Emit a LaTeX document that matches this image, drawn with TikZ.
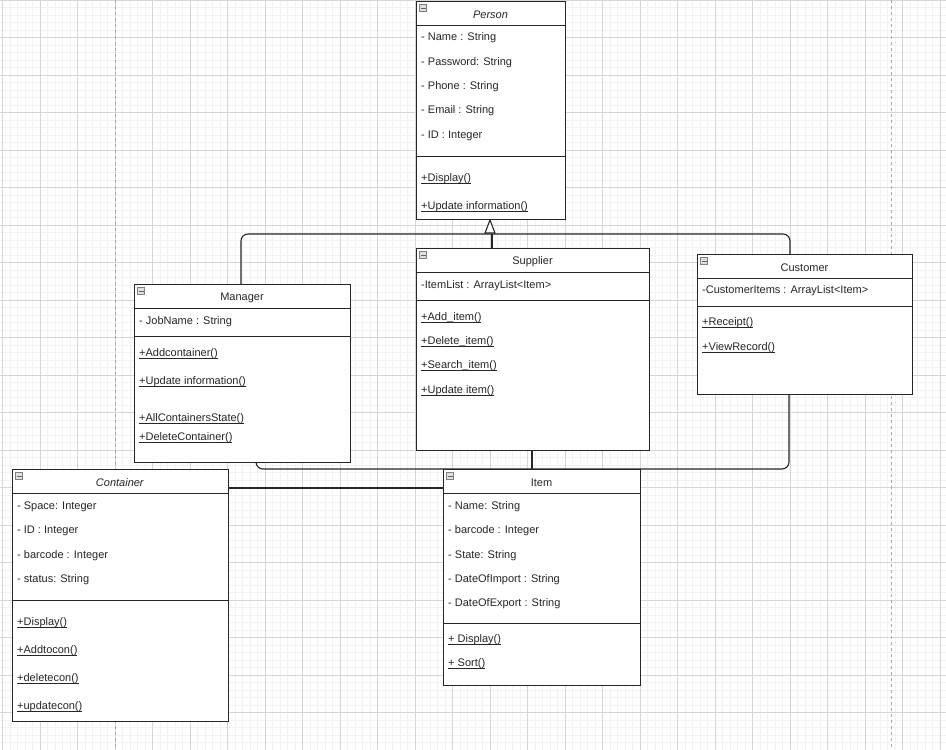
\documentclass[tikz,border=0pt]{standalone}
\usepackage{fontspec}
\setmainfont{Liberation Sans}
\usetikzlibrary{arrows.meta}
\tikzset{
  box/.style={draw=black!85,line width=1.1pt,fill=white},
  sepl/.style={draw=black!85,line width=1pt},
  txt/.style={anchor=west,inner sep=0pt,font=\fontsize{11}{13}\selectfont,text=black!85},
  ttl/.style={anchor=center,inner sep=0pt,font=\fontsize{11}{13}\selectfont,text=black!85},
  conn/.style={draw=black!85,line width=1.1pt,rounded corners=7pt},
  icon/.style={draw=gray,fill=gray!25,minimum size=7pt,inner sep=0pt,line width=0.5pt}
}
\newcommand\mth[1]{\setbox0\hbox{#1}\rlap{\rule[-1.6pt]{\wd0}{0.6pt}}\box0}
% name, x1, y1, x2, y2, header y, sep y, title
\newcommand\cls[8]{%
  \node[box,anchor=north west,minimum width={(#4-#2)*1pt},minimum height={(#5-#3)*1pt},inner sep=0pt] (#1) at (#2,#3) {};
  \draw[sepl] (#2,#6) -- (#4,#6);
  \draw[sepl] (#2,#7) -- (#4,#7);
  \node[icon] (#1i) at (#2+7,#3+7) {};
  \draw[gray!80!black,line width=0.6pt] (#2+4.5,#3+7) -- (#2+9.5,#3+7);
  \node[ttl] (#1t) at ({(#2+#4)/2},{(#3+#6)/2+1.5}) {#8};
}
\begin{document}
\begin{tikzpicture}[x=1pt,y=-1pt]
\useasboundingbox (0,0) rectangle (946,750);
\fill[white] (0,0) rectangle (946,750);
\foreach \i in {0,...,127} \draw[black!5,line width=0.4pt] ({2.5+7.5*\i},0) -- ({2.5+7.5*\i},750);
\foreach \i in {0,...,100} \draw[black!5,line width=0.4pt] (0,{0+7.5*\i}) -- (946,{0+7.5*\i});
\foreach \i in {0,...,25} \draw[black!16,line width=0.6pt] ({2.5+37.5*\i},0) -- ({2.5+37.5*\i},750);
\foreach \i in {0,...,20} \draw[black!16,line width=0.6pt] (0,{37.5*\i}) -- (946,{37.5*\i});
\draw[black!35,dashed,line width=0.8pt] (115,0) -- (115,750);
\draw[black!35,dashed,line width=0.8pt] (891,0) -- (891,750);

% connectors (behind boxes)
\draw[conn] (241,284) -- (241,234) -- (790,234) -- (790,254);
\draw[conn] (492,248) -- (492,234);
\draw[conn] (256,462) -- (256,469) -- (789,469) -- (789,394);
\draw[conn] (532,450) -- (532,469);
\draw[conn] (228,488) -- (443,488);
\draw[draw=black!85,line width=1.1pt,fill=white] (490,220) -- (485,233) -- (495,233) -- cycle;

\cls{person}{416}{1}{565}{219}{25}{156}{\textit{Person}}
\node[txt] at (421,38) {- Name : String};
\node[txt] at (421,63) {- Password: String};
\node[txt] at (421,87) {- Phone : String};
\node[txt] at (421,111) {- Email : String};
\node[txt] at (421,136) {- ID : Integer};
\node[txt] at (421,179) {\mth{+Display()}};
\node[txt] at (421,207) {\mth{+Update information()}};

\cls{supplier}{416}{248}{649}{450}{272}{300}{Supplier}
\node[txt] at (421,286) {-ItemList : ArrayList<Item>};
\node[txt] at (421,318) {\mth{+Add\_item()}};
\node[txt] at (421,342) {\mth{+Delete\_item()}};
\node[txt] at (421,366) {\mth{+Search\_item()}};
\node[txt] at (421,391) {\mth{+Update item()}};

\cls{customer}{697}{254}{912}{394}{278}{306}{Customer}
\node[txt] at (702,291) {-CustomerItems : ArrayList<Item>};
\node[txt] at (702,323) {\mth{+Receipt()}};
\node[txt] at (702,348) {\mth{+ViewRecord()}};

\cls{manager}{134}{284}{350}{462}{308}{336}{Manager}
\node[txt] at (139,322) {- JobName : String};
\node[txt] at (139,354) {\mth{+Addcontainer()}};
\node[txt] at (139,382) {\mth{+Update information()}};
\node[txt] at (139,419) {\mth{+AllContainersState()}};
\node[txt] at (139,438) {\mth{+DeleteContainer()}};

\cls{container}{12}{469}{228}{721}{493}{600}{\textit{Container}}
\node[txt] at (17,507) {- Space: Integer};
\node[txt] at (17,531) {- ID : Integer};
\node[txt] at (17,556) {- barcode : Integer};
\node[txt] at (17,580) {- status: String};
\node[txt] at (17,623) {\mth{+Display()}};
\node[txt] at (17,651) {\mth{+Addtocon()}};
\node[txt] at (17,679) {\mth{+deletecon()}};
\node[txt] at (17,707) {\mth{+updatecon()}};

\cls{item}{443}{469}{640}{685}{493}{623}{Item}
\node[txt] at (448,507) {- Name: String};
\node[txt] at (448,531) {- barcode : Integer};
\node[txt] at (448,556) {- State: String};
\node[txt] at (448,580) {- DateOfImport : String};
\node[txt] at (448,604) {- DateOfExport : String};
\node[txt] at (448,640) {\mth{+ Display()}};
\node[txt] at (448,664) {\mth{+ Sort()}};
\end{tikzpicture}
\end{document}
